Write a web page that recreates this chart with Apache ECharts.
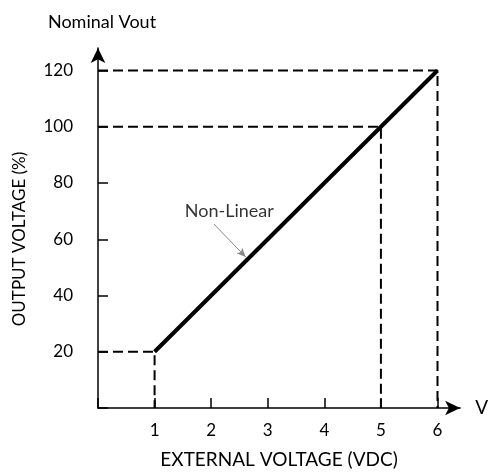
<!DOCTYPE html>
<html>
<head>
<meta charset="utf-8">
<script src="https://cdn.jsdelivr.net/npm/echarts@6/dist/echarts.min.js"></script>
<style>html,body{margin:0;padding:0;background:#fff}#c{width:491px;height:474px}</style>
</head>
<body>
<div id="c"></div>
<script>
// ---- data ----
var xTicks = [1, 2, 3, 4, 5, 6];
var yTicks = [20, 40, 60, 80, 100, 120];
var mainLine = [[1, 20], [6, 120]];
var guide20 = [[0, 20], [1, 20], [1, 0]];
var guide100 = [[0, 100], [5, 100], [5, 0]];
var guide120 = [[0, 120], [6, 120], [6, 0]];
var noteText = 'Non-Linear';
var notePos = [2.32, 70];
var noteArrow = [[2.05, 65.4], [2.61, 53.7]];
var xName = 'EXTERNAL VOLTAGE (VDC)';
var xEndName = 'V';
var yName = 'OUTPUT VOLTAGE (%)';
var yEndName = 'Nominal Vout';

var FONT = 'Lato';
var chart = echarts.init(document.getElementById('c'), null, {renderer: 'canvas'});
function dashed(d) {
  return {type: 'line', data: d, symbol: 'none', silent: true,
    lineStyle: {color: '#000', width: 2, type: [10, 5]}, z: 3};
}
var axisLineStyle = {color: '#000', width: 1.5};
chart.setOption({
  animation: false,
  grid: {left: 98, top: 48, right: 28, bottom: 64, containLabel: false},
  xAxis: [{
    type: 'value', min: 0, max: 6.4, interval: 1,
    name: xName, nameLocation: 'middle', nameGap: 42,
    nameTextStyle: {fontFamily: FONT, fontSize: 19, color: '#000'},
    axisLine: {show: true, lineStyle: axisLineStyle, symbol: ['none', 'arrow'], symbolSize: [11, 15]},
    axisTick: {show: true, inside: true, length: 10, lineStyle: {color: '#000', width: 1.5}},
    axisLabel: {margin: 14, fontFamily: FONT, fontSize: 17, color: '#000', showMaxLabel: false,
      formatter: function (v) { return xTicks.indexOf(v) >= 0 ? String(v) : ''; }},
    splitLine: {show: false}
  }, {
    type: 'value', min: 0, max: 6.4, position: 'bottom',
    name: xEndName, nameLocation: 'end', nameGap: 15,
    nameTextStyle: {fontFamily: FONT, fontSize: 19, color: '#000', padding: [18, 0, 0, 0]},
    axisLine: {show: false}, axisTick: {show: false}, axisLabel: {show: false}, splitLine: {show: false}
  }],
  yAxis: [{
    type: 'value', min: 0, max: 128, interval: 20,
    name: yEndName, nameLocation: 'end', nameGap: 17,
    nameTextStyle: {fontFamily: FONT, fontSize: 18, color: '#000', padding: [0, 0, 0, 8]},
    axisLine: {show: true, lineStyle: axisLineStyle, symbol: ['none', 'arrow'], symbolSize: [11, 15]},
    axisTick: {show: true, inside: true, length: 10, lineStyle: {color: '#000', width: 1.5}},
    axisLabel: {margin: 25, fontFamily: FONT, fontSize: 17, color: '#000', showMaxLabel: false,
      formatter: function (v) { return yTicks.indexOf(v) >= 0 ? String(v) : ''; }},
    splitLine: {show: false}
  }, {
    type: 'value', min: 0, max: 128, position: 'left',
    name: yName, nameLocation: 'middle', nameGap: 70,
    nameTextStyle: {fontFamily: FONT, fontSize: 17, color: '#000', padding: [0, 22, 0, 0]},
    axisLine: {show: false}, axisTick: {show: false}, axisLabel: {show: false}, splitLine: {show: false}
  }],
  series: [
    dashed(guide20), dashed(guide100), dashed(guide120),
    {type: 'line', data: mainLine, symbol: 'none', silent: true,
      lineStyle: {color: '#000', width: 4}, z: 4},
    {type: 'scatter', data: [notePos], symbolSize: 0, silent: true,
      label: {show: true, position: 'inside', formatter: noteText,
        fontFamily: FONT, fontSize: 18, color: '#000'},
      markLine: {silent: true, symbol: ['none', 'arrow'], symbolSize: [6, 9],
        lineStyle: {color: '#888', width: 1, type: 'solid'}, label: {show: false},
        data: [[{coord: noteArrow[0]}, {coord: noteArrow[1]}]]}}
  ]
});
</script>
</body>
</html>
